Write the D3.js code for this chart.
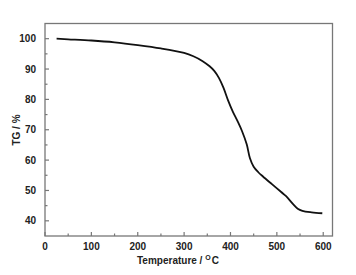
<!DOCTYPE html>
<html><head><meta charset="utf-8">
<script src="https://cdn.jsdelivr.net/npm/d3@7"></script>
<style>body{margin:0;background:#fff}svg{display:block}text{font-family:"Liberation Sans",Arial,sans-serif;font-weight:bold;fill:#222}</style>
</head><body>
<svg id="c" width="356" height="275"></svg>
<script>
const temperature = [25, 50, 100, 150, 200, 250, 300, 320, 340, 355, 365, 375, 385, 395, 405, 415, 425, 435, 442, 450, 460, 470, 490, 510, 520, 535, 545, 555, 575, 598];
const tg = [100.0, 99.8, 99.4, 98.8, 97.9, 96.8, 95.3, 94.2, 92.6, 90.9, 89.4, 87.1, 83.8, 79.6, 76.0, 72.9, 69.5, 65.2, 60.6, 57.8, 56.0, 54.6, 52.0, 49.4, 48.1, 45.5, 44.0, 43.3, 42.8, 42.5];
const xTicks = [0, 100, 200, 300, 400, 500, 600];
const yTicks = [40, 50, 60, 70, 80, 90, 100];

const svg = d3.select("#c");
const L = 45, R = 332.5, T = 23.5, B = 236;
const x = d3.scaleLinear().domain([0, 620]).range([L, R]);
const y = d3.scaleLinear().domain([35, 105]).range([B, T]);
const frame = "#777";

// frame
svg.append("rect").attr("x", L).attr("y", T).attr("width", R - L).attr("height", B - T)
  .attr("fill", "none").attr("stroke", frame).attr("stroke-width", 1.3);

// x ticks
const xMinor = d3.range(50, 620, 100);
svg.selectAll(".xt").data(xTicks).join("line").attr("x1", d => x(d)).attr("x2", d => x(d))
  .attr("y1", B).attr("y2", B - 4).attr("stroke", frame).attr("stroke-width", 1.2);
svg.selectAll(".xm").data(xMinor).join("line").attr("x1", d => x(d)).attr("x2", d => x(d))
  .attr("y1", B).attr("y2", B - 2.5).attr("stroke", frame).attr("stroke-width", 1.2);
svg.selectAll(".xl").data(xTicks).join("text").attr("x", d => x(d)).attr("y", 249.5)
  .attr("text-anchor", "middle").attr("font-size", 10).text(d => d);

// y ticks
const yMinor = d3.range(45, 105, 10);
svg.selectAll(".yt").data(yTicks).join("line").attr("y1", d => y(d)).attr("y2", d => y(d))
  .attr("x1", L).attr("x2", L + 4).attr("stroke", frame).attr("stroke-width", 1.2);
svg.selectAll(".ym").data(yMinor).join("line").attr("y1", d => y(d)).attr("y2", d => y(d))
  .attr("x1", L).attr("x2", L + 2.5).attr("stroke", frame).attr("stroke-width", 1.2);
svg.selectAll(".yl").data(yTicks).join("text").attr("x", 36).attr("y", d => y(d) + 3.6)
  .attr("text-anchor", "end").attr("font-size", 10).text(d => d);

// titles
const xt = svg.append("text").attr("x", 137).attr("y", 264).attr("font-size", 10);
xt.append("tspan").text("Temperature / ");
xt.append("tspan").attr("font-size", 7).attr("dy", -4).text("O");
xt.append("tspan").attr("dy", 4).attr("dx", 1).text("C");

svg.append("text").attr("transform", "translate(20,130) rotate(-90)")
  .attr("text-anchor", "middle").attr("font-size", 10).text("TG / %");

// curve
const data = temperature.map((t, i) => [t, tg[i]]);
svg.append("path").datum(data)
  .attr("d", d3.line().x(d => x(d[0])).y(d => y(d[1])).curve(d3.curveCatmullRom.alpha(0.5)))
  .attr("fill", "none").attr("stroke", "#111").attr("stroke-width", 1.8);
</script>
</body></html>
